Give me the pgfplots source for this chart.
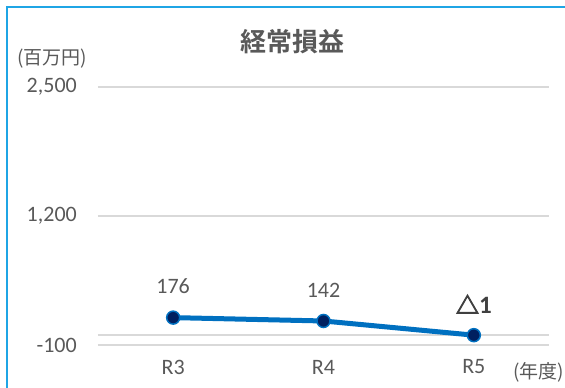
\documentclass[border=0pt]{standalone}
\usepackage{fontspec}
\setmainfont{Carlito}
\newfontfamily\cjk{Noto Sans CJK JP}[BoldFont={Noto Sans CJK JP Bold}]
\newfontfamily\trif{Noto Sans CJK JP Bold}[FakeBold=3.5]
\usepackage{pgfplots}
\pgfplotsset{compat=1.18}
\definecolor{txt}{HTML}{595959}
\definecolor{gridc}{HTML}{D9D9D9}
\definecolor{line}{HTML}{0070C0}
\definecolor{mk}{HTML}{002060}
\definecolor{frame}{HTML}{1FA5E5}
\newcommand\tri{{\color[HTML]{404040}{\trif\fontsize{23}{24}\selectfont △}{\bfseries\fontsize{25}{26}\selectfont 1}}}
\begin{document}
\begin{tikzpicture}[x=1pt,y=1pt]
\path[use as bounding box] (0,0) rectangle (565,388);
\draw[frame, line width=2pt] (6.5,-2) -- (6.5,381) -- (570,381);
\begin{axis}[
  at={(98pt,43pt)}, anchor=south west,
  width=451pt, height=258pt, scale only axis,
  xmin=-0.5, xmax=2.5, ymin=-100, ymax=2500,
  axis line style={draw=none},
  major tick length=0pt,
  xtick={0,1,2}, xticklabels={R3,R4,R5},
  ytick={-100,1200,2500},
  yticklabels={-100,{1,200},{2,500}},
  ymajorgrids=true, xmajorgrids=false,
  major grid style={draw=gridc, line width=1.2pt},
  /pgf/number format/assume math mode=true,
  tick label style={font=\fontsize{22}{24}\selectfont, text=txt},
  yticklabel style={anchor=east, inner sep=0pt, xshift=-21pt},
  xticklabel style={anchor=center, inner sep=0pt, yshift=-22pt},
  clip=false,
]
\draw[gridc, line width=1.2pt] (axis cs:-0.5,0) -- (axis cs:2.5,0);
\addplot[line, line width=5pt, mark=*, mark size=6.5pt,
  mark options={fill=mk, draw=line, line width=1.5pt},
  nodes near coords, point meta=explicit symbolic,
  every node near coord/.style={anchor=center, yshift=31pt, font=\fontsize{22}{24}\selectfont, text=txt}]
  coordinates {(0,176) [176] (1,142) [142] (2,-1) [\tri]};
\end{axis}
\node[text=txt, font=\cjk\bfseries\fontsize{26}{28}\selectfont] at (292,346) {経常損益};
\node[text=txt, font=\cjk\fontsize{19}{21}\selectfont] at (52,329) {(百万円)};
\node[text=txt, font=\cjk\fontsize{19}{21}\selectfont, anchor=west, inner sep=0pt] at (513,16) {(年度)};
\end{tikzpicture}
\end{document}
